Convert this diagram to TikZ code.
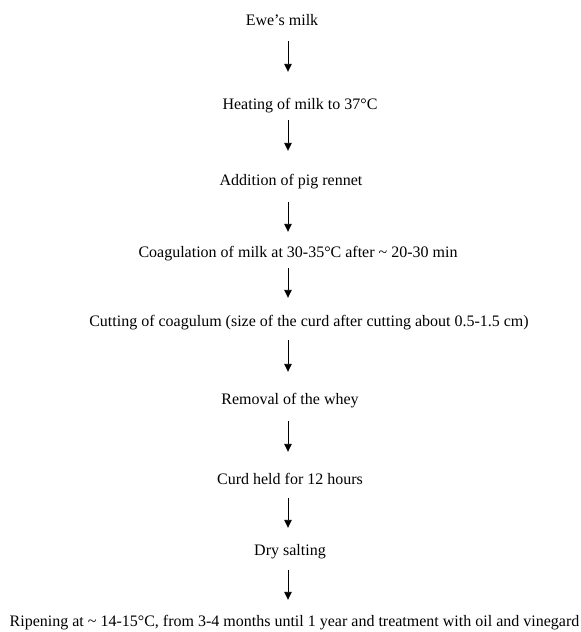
\documentclass[tikz,border=0pt]{standalone}
\usepackage{fontspec}
\setmainfont{Liberation Serif}
\usetikzlibrary{arrows.meta, positioning}

\tikzset{
    stage/.style={inner sep=0pt, text height=11pt, text depth=4pt,
        font=\fontsize{16}{18}\selectfont},
    flow/.style={-{Triangle[length=8pt,width=7.5pt]}, line width=0.9pt}
}

\begin{document}
\begin{tikzpicture}[x=1pt,y=1pt]
    \useasboundingbox (0,0) rectangle (581,-632);
    \coordinate (axis) at (288,0);
    % process steps
    \node[stage] (milk) at (282,-22) {Ewe’s milk};
    \node[stage] (heat) at (300,-106) {Heating of milk to 37°C};
    \node[stage] (rennet) at (291,-182) {Addition of pig rennet};
    \node[stage] (coag) at (298,-254) {Coagulation of milk at 30-35°C after \textasciitilde{} 20-30 min};
    \node[stage] (cut) at (309,-323) {Cutting of coagulum (size of the curd after cutting about 0.5-1.5 cm)};
    \node[stage] (whey) at (290,-401) {Removal of the whey};
    \node[stage] (held) at (290,-481) {Curd held for 12 hours};
    \node[stage] (salt) at (290,-552) {Dry salting};
    \node[stage] (ripen) at (294.5,-623) {Ripening at \textasciitilde{} 14-15°C, from 3-4 months until 1 year and treatment with oil and vinegard};
    % arrows
    \draw[flow, shorten <=11.5pt, shorten >=26.5pt] (milk.south -| axis) -- (heat.north -| axis);
    \draw[flow, shorten <=6.5pt, shorten >=23.5pt] (heat.south -| axis) -- (rennet.north -| axis);
    \draw[flow, shorten <=12.5pt, shorten >=14.5pt] (rennet.south -| axis) -- (coag.north -| axis);
    \draw[flow, shorten <=6.5pt, shorten >=17.5pt] (coag.south -| axis) -- (cut.north -| axis);
    \draw[flow, shorten <=9.5pt, shorten >=21.5pt] (cut.south -| axis) -- (whey.north -| axis);
    \draw[flow, shorten <=12.5pt, shorten >=21.5pt] (whey.south -| axis) -- (held.north -| axis);
    \draw[flow, shorten <=9.5pt, shorten >=16.5pt] (held.south -| axis) -- (salt.north -| axis);
    \draw[flow, shorten <=10.5pt, shorten >=15.5pt] (salt.south -| axis) -- (ripen.north -| axis);
\end{tikzpicture}
\end{document}
